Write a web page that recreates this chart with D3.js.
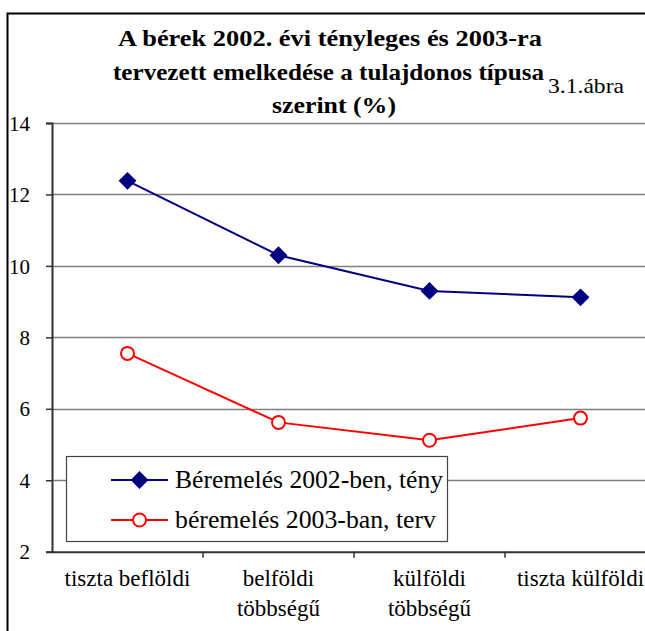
<!DOCTYPE html>
<html>
<head>
<meta charset="utf-8">
<script src="https://cdn.jsdelivr.net/npm/d3@7"></script>
<style>
html, body { margin: 0; padding: 0; background: #fff; }
svg { display: block; }
</style>
</head>
<body>
<svg id="chart" width="645" height="631"></svg>
<script>
const categories = [["tiszta beflöldi"], ["belföldi", "többségű"], ["külföldi", "többségű"], ["tiszta külföldi"]];
const categoryKeys = ["tiszta beflöldi", "belföldi többségű", "külföldi többségű", "tiszta külföldi"];
const seriesNames = ["Béremelés 2002-ben, tény", "béremelés 2003-ban, terv"];
const values2002 = [12.38, 10.3, 9.3, 9.12];
const values2003 = [7.55, 5.62, 5.12, 5.74];
const yTicks = [2, 4, 6, 8, 10, 12, 14];
const titleLines = ["A bérek 2002. évi tényleges és 2003-ra", "tervezett emelkedése a tulajdonos típusa", "szerint (%)"];
const figureLabel = "3.1.ábra";

const svg = d3.select("#chart");
const serif = "'Liberation Serif', 'Times New Roman', serif";

const plot = { left: 52, top: 123, bottom: 551.7, right: 656 };

const x = d3.scaleBand().domain(categoryKeys).range([plot.left, plot.right]);
const y = d3.scaleLinear().domain([2, 14]).range([plot.bottom, plot.top]);

// outer frame
svg.append("path")
  .attr("d", `M7.5,640 L7.5,13.5 L650,13.5`)
  .attr("fill", "none").attr("stroke", "#000").attr("stroke-width", 2);

// gridlines
svg.append("g").selectAll("line").data(yTicks.filter(d => d > 2)).join("line")
  .attr("x1", plot.left).attr("x2", 645)
  .attr("y1", d => Math.round(y(d)) + 0.5).attr("y2", d => Math.round(y(d)) + 0.5)
  .attr("stroke", "#7f7f7f").attr("stroke-width", 1.6);

// y axis
const yAxis = svg.append("g").attr("transform", `translate(${plot.left},0)`)
  .call(d3.axisLeft(y).tickValues(yTicks).tickSize(6).tickPadding(16).tickFormat(d3.format("d")));
yAxis.select(".domain").attr("stroke", "#333").attr("stroke-width", 2);
yAxis.selectAll(".tick line").attr("stroke", "#333").attr("stroke-width", 1.5);
yAxis.selectAll(".tick text").attr("font-family", serif).attr("font-size", 21).attr("fill", "#000")
  .attr("dy", "0.34em");

// x axis
const xAxis = svg.append("g").attr("transform", `translate(0,${plot.bottom})`)
  .call(d3.axisBottom(x).tickSize(0).tickFormat(""));
xAxis.select(".domain").attr("stroke", "#333").attr("stroke-width", 2);
svg.append("g").selectAll("line").data(categoryKeys.slice(1)).join("line")
  .attr("x1", d => x(d)).attr("x2", d => x(d))
  .attr("y1", plot.bottom).attr("y2", plot.bottom + 6)
  .attr("stroke", "#333").attr("stroke-width", 1.5);

// x labels
const xl = svg.append("g");
categories.forEach((lines, i) => {
  const cx = x(categoryKeys[i]) + x.bandwidth() / 2;
  lines.forEach((t, j) => {
    xl.append("text").attr("x", cx).attr("y", 586 + j * 30)
      .attr("text-anchor", "middle").attr("font-family", serif).attr("font-size", 23)
      .attr("fill", "#000").text(t);
  });
});

const cxOf = (d, i) => x(categoryKeys[i]) + x.bandwidth() / 2;
const line = d3.line().x((d, i) => cxOf(d, i)).y(d => y(d));

// series 1
svg.append("path").datum(values2002).attr("d", line)
  .attr("fill", "none").attr("stroke", "#000080").attr("stroke-width", 2);
svg.append("g").selectAll("path").data(values2002).join("path")
  .attr("d", d3.symbol(d3.symbolSquare, 160))
  .attr("transform", (d, i) => `translate(${cxOf(d, i)},${y(d)}) rotate(45)`)
  .attr("fill", "#000080");

// series 2
svg.append("path").datum(values2003).attr("d", line)
  .attr("fill", "none").attr("stroke", "#ff0000").attr("stroke-width", 2);
svg.append("g").selectAll("circle").data(values2003).join("circle")
  .attr("cx", (d, i) => cxOf(d, i)).attr("cy", d => y(d)).attr("r", 6.5)
  .attr("fill", "#fff").attr("stroke", "#ff0000").attr("stroke-width", 2);

// legend
const lg = svg.append("g");
lg.append("rect").attr("x", 66.5).attr("y", 456.5).attr("width", 381).attr("height", 85)
  .attr("fill", "#fff").attr("stroke", "#444").attr("stroke-width", 1.2);
const legendRows = [
  { name: seriesNames[0], color: "#000080", kind: "diamond", y: 480, w: 268 },
  { name: seriesNames[1], color: "#ff0000", kind: "circle", y: 520, w: 261 }
];
legendRows.forEach(r => {
  lg.append("line").attr("x1", 111).attr("x2", 168).attr("y1", r.y).attr("y2", r.y)
    .attr("stroke", r.color).attr("stroke-width", 2);
  if (r.kind === "diamond") {
    lg.append("path").attr("d", d3.symbol(d3.symbolSquare, 160))
      .attr("transform", `translate(139.5,${r.y}) rotate(45)`).attr("fill", r.color);
  } else {
    lg.append("circle").attr("cx", 139.5).attr("cy", r.y).attr("r", 6.5)
      .attr("fill", "#fff").attr("stroke", r.color).attr("stroke-width", 2);
  }
  lg.append("text").attr("x", 175).attr("y", r.y + 8).attr("font-family", serif)
    .attr("font-size", 25).attr("fill", "#000")
    .attr("textLength", r.w).attr("lengthAdjust", "spacingAndGlyphs").text(r.name);
});

// title
const titleGeom = [{ cx: 330, w: 424 }, { cx: 328.5, w: 431 }, { cx: 334, w: 124 }];
titleLines.forEach((t, i) => {
  svg.append("text").attr("x", titleGeom[i].cx).attr("y", 46 + i * 33.5)
    .attr("text-anchor", "middle").attr("font-family", serif).attr("font-weight", "bold")
    .attr("font-size", 24).attr("fill", "#000")
    .attr("textLength", titleGeom[i].w).attr("lengthAdjust", "spacingAndGlyphs").text(t);
});
svg.append("text").attr("x", 548).attr("y", 93).attr("font-family", serif)
  .attr("font-size", 21).attr("fill", "#000")
  .attr("textLength", 76).attr("lengthAdjust", "spacingAndGlyphs").text(figureLabel);
</script>
</body>
</html>
